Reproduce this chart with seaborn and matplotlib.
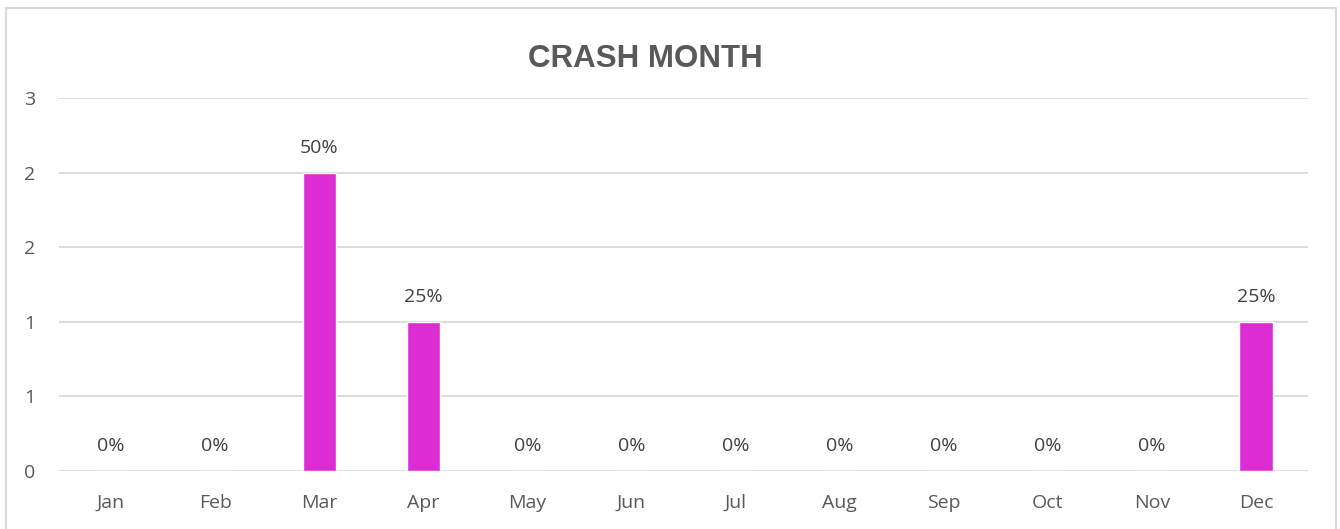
import seaborn as sns
import matplotlib.pyplot as plt
import pandas as pd
from matplotlib.patches import Rectangle

# --- Data ---
months = ['Jan', 'Feb', 'Mar', 'Apr', 'May', 'Jun', 'Jul', 'Aug', 'Sep', 'Oct', 'Nov', 'Dec']
crash_counts = [0, 0, 2, 1, 0, 0, 0, 0, 0, 0, 0, 1]
pct_labels = ['0%', '0%', '50%', '25%', '0%', '0%', '0%', '0%', '0%', '0%', '0%', '25%']
y_ticks = [0, 0.5, 1, 1.5, 2, 2.5]
y_tick_labels = ['0', '1', '1', '2', '2', '3']

df = pd.DataFrame({'month': months, 'count': crash_counts})

# --- Style ---
sns.set_theme(style="white")
plt.rcParams['font.family'] = ['Open Sans', 'DejaVu Sans']
grey = '#595959'

fig = plt.figure(figsize=(13.4, 5.29), dpi=100)
ax = fig.add_axes([59 / 1340, 1 - 471 / 529, 1249 / 1340, 373 / 529])

sns.barplot(data=df, x='month', y='count', color='#DC2DD4', width=0.32,
            saturation=1, ax=ax, zorder=3)

ax.set_ylim(0, 2.5)
ax.set_xlim(-0.5, 11.5)
ax.set_yticks(y_ticks)
ax.set_yticklabels(y_tick_labels)
ax.yaxis.grid(True, color='#D9D9D9', linewidth=1.3, zorder=0)
ax.set_axisbelow(True)
for s in ax.spines.values():
    s.set_visible(False)
ax.tick_params(axis='both', length=0, labelsize=14, labelcolor=grey)
ax.tick_params(axis='y', pad=17)
ax.tick_params(axis='x', pad=16.5)
ax.set_xlabel('')
ax.set_ylabel('')

# --- Data labels ---
for i, (v, lab) in enumerate(zip(crash_counts, pct_labels)):
    ax.annotate(lab, (i, v), xytext=(0, 18), textcoords='offset points',
                ha='center', va='center', fontsize=14, color='#404040')

fig.text(645 / 1340, 1 - 59 / 529, 'CRASH MONTH', ha='center', va='center',
         fontsize=22.5, fontweight='bold', color=grey, family='Liberation Sans')

# --- Chart border ---
fig.patches.append(Rectangle((6 / 1340, -0.01), 1330 / 1340, 1 - 8 / 529 + 0.01,
                             transform=fig.transFigure, fill=False,
                             edgecolor='#D9D9D9', linewidth=1.5))

fig.savefig('out.png', dpi=100)
plt.close()
